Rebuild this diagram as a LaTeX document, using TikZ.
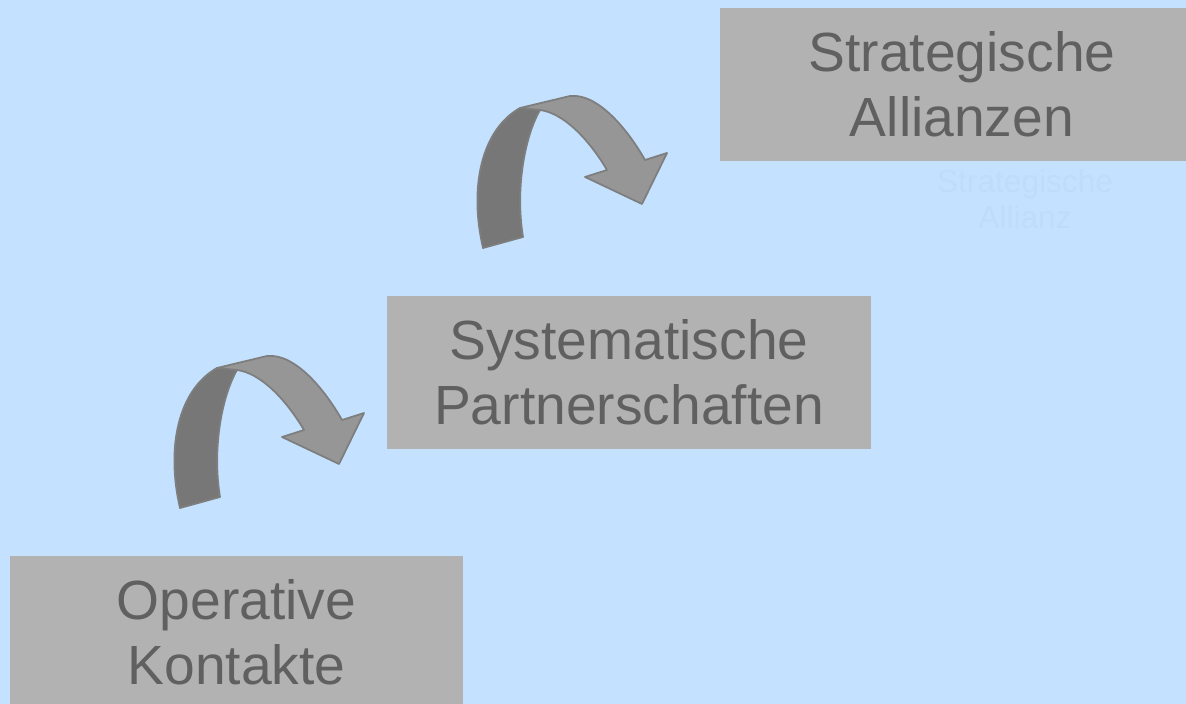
\documentclass[tikz,border=0pt]{standalone}
\usepackage{fontspec}
\setmainfont{Liberation Sans}
\usetikzlibrary{positioning}

\definecolor{skyback}{RGB}{196,226,255}
\definecolor{boxgray}{RGB}{178,178,178}
\definecolor{labelgray}{RGB}{96,96,96}
\definecolor{bandback}{RGB}{119,119,119}
\definecolor{bandfront}{RGB}{150,150,150}
\definecolor{bandline}{RGB}{126,126,126}
\definecolor{ghostblue}{RGB}{191,221,251}

% curled step arrow, origin at the outer end of its tail
\tikzset{
  steparrow/.pic={
    \filldraw[fill=bandback, draw=bandline, line width=0.5pt, line join=round]
      (0,0) .. controls (-14,-60) and (-2,-118) .. (37,-140)
      -- (57,-138) .. controls (42,-112) and (32,-60) .. (40,-11) -- cycle;
    \filldraw[fill=bandfront, draw=bandline, line width=0.5pt, line join=round]
      (37,-140) -- (87,-152) .. controls (115,-155) and (145,-118) .. (162,-88)
      -- (184,-95) -- (159,-44) -- (102,-71) -- (124,-78)
      .. controls (105,-110) and (80,-135) .. (57,-138) -- cycle;
  }
}

\begin{document}
\begin{tikzpicture}[x=0.01cm, y=-0.01cm]
    % Define styles
    \tikzstyle{stage} = [rectangle, fill=boxgray, text=labelgray, align=center, inner sep=0pt, minimum height=1.53cm, font=\fontsize{15.7}{18.5}\selectfont]
    \tikzstyle{ghost} = [text=ghostblue, align=center, inner sep=0pt, font=\fontsize{9}{10.3}\selectfont]

    % Background
    \path[use as bounding box, fill=skyback] (0,0) rectangle (1186,704);
    \clip (0,0) rectangle (1186,704);

    % Stages
    \node[stage, minimum width=4.53cm] (oper) at (236.5,632.5) {Operative\\Kontakte};
    \node[stage, minimum width=4.84cm] (syst) at (629,372.5) {Systematische\\Partnerschaften};
    \node[stage, minimum width=4.84cm] (strat) at (962,84.5) {Strategische\\Allianzen};
    \node[ghost] (stratghost) at (1025,199) {Strategische\\Allianz};

    % Arrows between the stages
    \pic at (180,508) {steparrow};
    \pic at (483,248) {steparrow};

\end{tikzpicture}
\end{document}
